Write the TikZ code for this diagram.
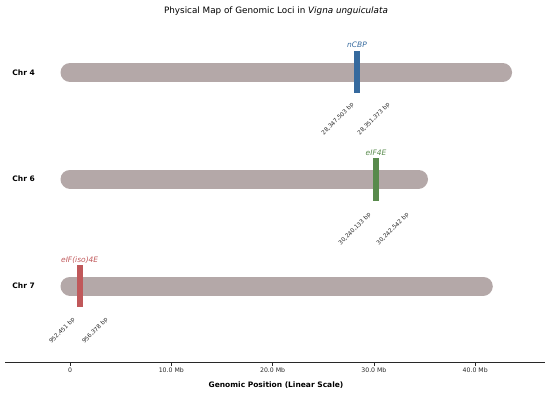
\documentclass[tikz,border=0pt]{standalone}
\usepackage{fontspec}
\setmainfont{DejaVu Sans}
\definecolor{chrcol}{RGB}{180,168,168}
\definecolor{bluec}{RGB}{54,106,158}
\definecolor{greenc}{RGB}{88,138,76}
\definecolor{redc}{RGB}{192,88,90}
\definecolor{axcol}{RGB}{40,40,40}
\begin{document}
\begin{tikzpicture}[x=1pt,y=-1pt,
  chrbar/.style={line width=19pt, line cap=round, draw=chrcol},
  markbox/.style={minimum width=6pt, minimum height=42pt, inner sep=0pt, draw=none, rectangle},
  chrlab/.style={font=\bfseries\fontsize{7.5}{9}\selectfont, anchor=east, inner sep=0pt},
  genelab/.style={font=\itshape\fontsize{7.5}{9}\selectfont, anchor=base, inner sep=0pt},
  bplab/.style={font=\fontsize{5.8}{7}\selectfont, rotate=45, anchor=east, inner sep=0pt, text=black!85},
  ticklab/.style={font=\fontsize{6.2}{7}\selectfont, inner sep=0pt, anchor=north, text=axcol},
  tickmark/.style={draw=axcol, line width=0.7pt},
]
\useasboundingbox (0,0) rectangle (550,392);

% title
\node[font=\fontsize{8.8}{10}\selectfont, inner sep=0pt] (title) at (276,11)
  {Physical Map of Genomic Loci in \textit{Vigna unguiculata}};

% chromosome labels
\node[chrlab] (l4) at (35,72.5) {Chr 4};
\node[chrlab] (l6) at (35,179) {Chr 6};
\node[chrlab] (l7) at (35,286) {Chr 7};

% chromosome bars
\coordinate (c4s) at (70,72.5);  \coordinate (c4e) at (502.6,72.5);
\coordinate (c6s) at (70,179);   \coordinate (c6e) at (418.5,179);
\coordinate (c7s) at (70,286);   \coordinate (c7e) at (483.3,286);
\draw[chrbar] (c4s) -- (c4e);
\draw[chrbar] (c6s) -- (c6e);
\draw[chrbar] (c7s) -- (c7e);

% markers
\node[markbox, fill=bluec] (m4) at (357,72) {};
\node[markbox, fill=greenc, minimum height=43pt] (m6) at (376,179.5) {};
\node[markbox, fill=redc] (m7) at (79.7,286) {};

% gene labels
\node[genelab, text=bluec] (g4) at (357,47.5) {nCBP};
\node[genelab, text=greenc] (g6) at (376,155) {eIF4E};
\node[genelab, text=redc] (g7) at (79.7,262) {eIF(iso)4E};

% bp labels
\node[bplab] (b4a) at (353,104) {28,347,503 bp};
\node[bplab] (b4b) at (389,104) {28,351,373 bp};
\node[bplab] (b6a) at (370,214) {30,240,133 bp};
\node[bplab] (b6b) at (408,214) {30,242,542 bp};
\node[bplab] (b7a) at (74,319) {952,451 bp};
\node[bplab] (b7b) at (107,319) {956,378 bp};

% axis
\coordinate (axl) at (5,362);
\coordinate (axr) at (545,362);
\draw[draw=axcol, line width=0.8pt] (axl) -- (axr);
\foreach \x/\lab/\n in {70/0/t0, 171.3/10.0 Mb/t1, 272.6/20.0 Mb/t2, 373.9/30.0 Mb/t3, 475.2/40.0 Mb/t4}{
  \coordinate (\n) at (\x,362);
  \draw[tickmark] (\n) -- ++(0,3.5);
  \node[ticklab] (\n lab) at (\x,367.2) {\lab};
}
\node[font=\bfseries\fontsize{7.5}{9}\selectfont, inner sep=0pt] (xlabel) at (276,385)
  {Genomic Position (Linear Scale)};
\end{tikzpicture}
\end{document}
